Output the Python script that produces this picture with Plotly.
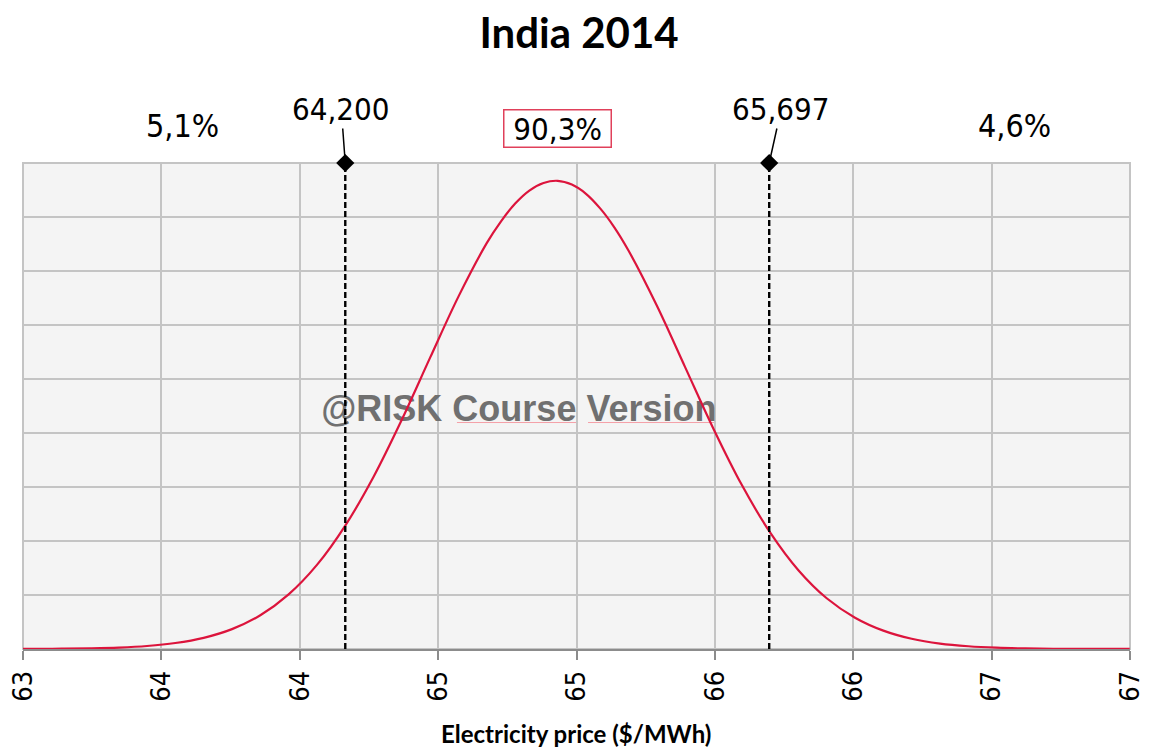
import numpy as np
import plotly.graph_objects as go

# ---- data -------------------------------------------------------------
TITLE = "India 2014"
X_TITLE = "Electricity price ($/MWh)"

PRICE = [63.06, 63.1, 63.2, 63.3, 63.4, 63.5, 63.6, 63.7, 63.8, 63.9,
         64.0, 64.1, 64.2, 64.3, 64.4, 64.5, 64.6, 64.7, 64.75, 64.8, 64.85, 64.9,
         64.95, 65.0, 65.05, 65.1, 65.15, 65.2, 65.3, 65.4, 65.5, 65.6, 65.7, 65.8, 65.9,
         66.0, 66.1, 66.2, 66.3, 66.4, 66.5, 66.6, 66.7, 66.8, 66.9, 66.97]
DENSITY = [0.0001, 0.0002, 0.0006, 0.0013, 0.0027, 0.0056, 0.0111, 0.0207, 0.0368, 0.0624,
           0.1011, 0.1557, 0.2285, 0.319, 0.425, 0.540, 0.653, 0.752, 0.792, 0.825, 0.849, 0.863,
           0.867, 0.860, 0.843, 0.816, 0.781, 0.738, 0.636, 0.522, 0.408, 0.304, 0.216, 0.146, 0.094,
           0.058, 0.034, 0.0189, 0.0100, 0.0051, 0.0024, 0.0011, 0.0005, 0.0002, 0.0001, 0.0001]

LOWER = 64.200
UPPER = 65.697
PCT_LEFT = 5.1
PCT_MID = 90.3
PCT_RIGHT = 4.6

X_MIN, X_MAX = 63.062, 66.971
Y_MAX = 0.9
TICK_LABELS = ["63", "64", "64", "65", "65", "66", "66", "67", "67"]

WATERMARK = "@RISK Course Version"


def comma(v, nd):
    return f"{v:.{nd}f}".replace(".", ",")


# ---- styling ----------------------------------------------------------
RED = "#dc143c"
GRID = "#c4c4c4"
BG = "#f4f4f4"
LABEL_FONT = "DejaVu Sans Condensed, DejaVu Sans, sans-serif"
HEAD_FONT = "Lato, Liberation Sans, sans-serif"

fig = go.Figure()

# watermark sits underneath the curves
fig.add_trace(go.Scatter(
    x=[64.813], y=[0.439], mode="text", text=["<b>" + WATERMARK + "</b>"],
    textfont=dict(family="Liberation Sans, Arial, sans-serif", size=36, color="#707070"),
    hoverinfo="skip", showlegend=False,
))

# fitted density
fig.add_trace(go.Scatter(
    x=PRICE, y=DENSITY, mode="lines",
    line=dict(color=RED, width=2.2, shape="spline", smoothing=1),
    showlegend=False, hoverinfo="skip",
))

# delimiter lines with diamond handles
for v in (LOWER, UPPER):
    fig.add_trace(go.Scatter(
        x=[v, v], y=[0, Y_MAX], mode="lines",
        line=dict(color="black", width=2.4, dash="6px,3px"),
        showlegend=False, hoverinfo="skip",
    ))
fig.add_trace(go.Scatter(
    x=[LOWER, UPPER], y=[Y_MAX, Y_MAX], mode="markers",
    marker=dict(symbol="diamond", size=14, color="black"),
    cliponaxis=False, showlegend=False, hoverinfo="skip",
))

annotations = []
# delimiter values with leader lines
for v, ax, ay in ((LOWER, -4, -54), (UPPER, 12, -54)):
    annotations.append(dict(
        x=v, y=Y_MAX, xref="x", yref="y", text=comma(v, 3),
        showarrow=True, arrowhead=0, arrowwidth=1.5, arrowcolor="black",
        ax=ax, ay=ay, font=dict(family=LABEL_FONT, size=31, color="black"),
    ))

# probability labels
pct_y = 1.076
annotations.append(dict(x=0.1445, y=pct_y, xref="paper", yref="paper",
                        text=comma(PCT_LEFT, 1) + "%", showarrow=False,
                        xanchor="center", yanchor="middle",
                        font=dict(family=LABEL_FONT, size=32, color="black")))
annotations.append(dict(x=0.483, y=1.072, xref="paper", yref="paper",
                        text="&nbsp;" + comma(PCT_MID, 1) + "%&nbsp;", showarrow=False,
                        xanchor="center", yanchor="middle",
                        bordercolor="#e0405a", borderwidth=1.5, borderpad=0,
                        font=dict(family=LABEL_FONT, size=31, color="black")))
annotations.append(dict(x=0.896, y=pct_y, xref="paper", yref="paper",
                        text=comma(PCT_RIGHT, 1) + "%", showarrow=False,
                        xanchor="center", yanchor="middle",
                        font=dict(family=LABEL_FONT, size=32, color="black")))

# axis title
annotations.append(dict(x=0.4995, y=-0.173, xref="paper", yref="paper",
                        text="<b>" + X_TITLE + "</b>", showarrow=False,
                        xanchor="center", yanchor="middle",
                        font=dict(family=HEAD_FONT, size=24, color="black")))

shapes = [
    # plot frame
    dict(type="rect", xref="paper", yref="paper", x0=0, y0=0, x1=1, y1=1,
         line=dict(color=GRID, width=2), layer="below"),
    # spell-check style underlines beneath the watermark words
    dict(type="line", xref="paper", yref="paper", x0=0.392, x1=0.5014, y0=0.466, y1=0.466,
         line=dict(color="#f4a0a8", width=1), layer="below"),
    dict(type="line", xref="paper", yref="paper", x0=0.5104, x1=0.6251, y0=0.466, y1=0.466,
         line=dict(color="#f4a0a8", width=1), layer="below"),
]

fig.update_layout(
    width=1150, height=749,
    margin=dict(l=23, r=20, t=163, b=100, autoexpand=False),
    paper_bgcolor="white", plot_bgcolor=BG,
    title=dict(text="<b>" + TITLE + "</b>", x=0.5035, xanchor="center",
               y=1 - 33 / 749, yanchor="middle",
               font=dict(family=HEAD_FONT, size=42, color="black")),
    xaxis=dict(
        range=[X_MIN, X_MAX], tickmode="array",
        tickvals=list(np.linspace(X_MIN, X_MAX, len(TICK_LABELS))),
        ticktext=TICK_LABELS, tickangle=-90,
        tickfont=dict(family=LABEL_FONT, size=27, color="black"),
        ticks="outside", ticklen=9, tickwidth=2, tickcolor="#8c8c8c",
        showgrid=True, gridcolor=GRID, gridwidth=2,
        showline=True, linecolor="#8c8c8c", linewidth=2,
        zeroline=False, fixedrange=True, automargin=False,
    ),
    yaxis=dict(
        range=[0, Y_MAX], dtick=0.1, tick0=0, showticklabels=False,
        showgrid=True, gridcolor=GRID, gridwidth=2,
        zeroline=False, ticks="", fixedrange=True, automargin=False,
    ),
    annotations=annotations,
    shapes=shapes,
    showlegend=False,
)

fig.write_html("out.html")
